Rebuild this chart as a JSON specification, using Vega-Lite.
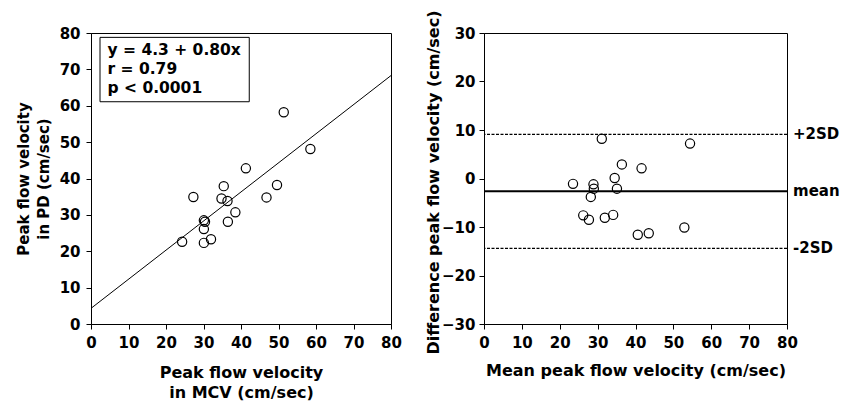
{
  "$schema": "https://vega.github.io/schema/vega-lite/v6.json",
  "background": "white",
  "padding": {"left": 15, "top": 9, "right": 5, "bottom": 5},
  "spacing": 23,
  "config": {
    "view": {"stroke": "black", "strokeWidth": 1},
    "axis": {
      "grid": false,
      "domainColor": "black",
      "tickColor": "black",
      "labelColor": "black",
      "titleColor": "black",
      "labelFont": "DejaVu Sans",
      "titleFont": "DejaVu Sans",
      "labelFontWeight": "bold",
      "titleFontWeight": "bold",
      "labelFontSize": 15,
      "titleFontSize": 16,
      "tickSize": 5,
      "labelPadding": 4,
      "titlePadding": 8,
      "titleLineHeight": 20,
      "labelFlush": false,
      "labelOverlap": false
    },
    "text": {"font": "DejaVu Sans", "fontWeight": "bold", "color": "black"}
  },
  "datasets": {
    "comparison": [
      {"mcv": 24.3, "pd": 22.6},
      {"mcv": 27.3, "pd": 34.9},
      {"mcv": 30.1, "pd": 28.5},
      {"mcv": 30.4, "pd": 28.1},
      {"mcv": 30.1, "pd": 26.1},
      {"mcv": 30.1, "pd": 22.3},
      {"mcv": 32.0, "pd": 23.3},
      {"mcv": 34.8, "pd": 34.5},
      {"mcv": 35.4, "pd": 37.9},
      {"mcv": 36.4, "pd": 33.8},
      {"mcv": 36.5, "pd": 28.1},
      {"mcv": 38.5, "pd": 30.7},
      {"mcv": 41.3, "pd": 42.8},
      {"mcv": 46.8, "pd": 34.8},
      {"mcv": 49.6, "pd": 38.2},
      {"mcv": 51.4, "pd": 58.2},
      {"mcv": 58.5, "pd": 48.1}
    ],
    "agreement": [
      {"mean": 31.1, "diff": 8.2},
      {"mean": 54.4, "diff": 7.2},
      {"mean": 36.4, "diff": 2.9},
      {"mean": 41.6, "diff": 2.1},
      {"mean": 34.5, "diff": 0.1},
      {"mean": 23.5, "diff": -1.1},
      {"mean": 28.9, "diff": -1.2},
      {"mean": 29.0, "diff": -2.1},
      {"mean": 35.1, "diff": -2.1},
      {"mean": 28.2, "diff": -3.8},
      {"mean": 26.2, "diff": -7.6},
      {"mean": 34.1, "diff": -7.5},
      {"mean": 27.7, "diff": -8.5},
      {"mean": 31.9, "diff": -8.1},
      {"mean": 52.9, "diff": -10.1},
      {"mean": 40.6, "diff": -11.6},
      {"mean": 43.5, "diff": -11.3}
    ],
    "limits": [
      {"label": "+2SD", "value": 9.1},
      {"label": "mean", "value": -2.65},
      {"label": "-2SD", "value": -14.4}
    ]
  },
  "hconcat": [
    {
      "width": 300,
      "height": 291,
      "layer": [
        {
          "data": {"values": [{}]},
          "mark": {"type": "rule", "color": "black", "strokeWidth": 1},
          "encoding": {
            "x": {"datum": 0, "type": "quantitative", "scale": {"domain": [0, 80], "nice": false},
              "axis": {"values": [0, 10, 20, 30, 40, 50, 60, 70, 80], "tickCount": 9, "labelOverlap": false, "labelPadding": 6, "titlePadding": 14, "title": ["Peak flow velocity", "in MCV (cm/sec)"]}},
            "x2": {"datum": 80},
            "y": {"datum": 4.3, "type": "quantitative", "scale": {"domain": [0, 80], "nice": false},
              "axis": {"values": [0, 10, 20, 30, 40, 50, 60, 70, 80], "tickCount": 9, "labelOverlap": false, "title": ["Peak flow velocity", "in PD (cm/sec)"], "titleFontSize": 15, "labelPadding": 6}},
            "y2": {"datum": 68.3}
          }
        },
        {
          "data": {"name": "comparison"},
          "mark": {"type": "point", "shape": "circle", "filled": false, "stroke": "black", "strokeWidth": 1.2, "size": 85, "opacity": 1},
          "encoding": {
            "x": {"field": "mcv", "type": "quantitative"},
            "y": {"field": "pd", "type": "quantitative"}
          }
        },
        {
          "data": {"values": [{}]},
          "mark": {"type": "rect", "fill": "white", "stroke": "black", "strokeWidth": 1},
          "encoding": {
            "x": {"datum": 2.4, "type": "quantitative"},
            "x2": {"datum": 42.2},
            "y": {"datum": 78.8, "type": "quantitative"},
            "y2": {"datum": 61.1}
          }
        },
        {
          "data": {"values": [{}]},
          "mark": {"type": "text", "text": ["y = 4.3 + 0.80x", "r = 0.79", "p < 0.0001"], "align": "left", "baseline": "top", "fontSize": 15.5, "lineHeight": 19},
          "encoding": {
            "x": {"datum": 4.4, "type": "quantitative"},
            "y": {"datum": 77.3, "type": "quantitative"}
          }
        }
      ]
    },
    {
      "width": 303,
      "height": 291,
      "layer": [
        {
          "data": {"name": "agreement"},
          "mark": {"type": "point", "shape": "circle", "filled": false, "stroke": "black", "strokeWidth": 1.2, "size": 85, "opacity": 1},
          "encoding": {
            "x": {"field": "mean", "type": "quantitative", "scale": {"domain": [0, 80], "nice": false},
              "axis": {"values": [0, 10, 20, 30, 40, 50, 60, 70, 80], "tickCount": 9, "labelOverlap": false, "labelPadding": 6, "titlePadding": 12, "title": "Mean peak flow velocity (cm/sec)"}},
            "y": {"field": "diff", "type": "quantitative", "scale": {"domain": [-30, 30], "nice": false},
              "axis": {"values": [-30, -20, -10, 0, 10, 20, 30], "tickCount": 7, "labelOverlap": false, "title": "Difference peak flow velocity (cm/sec)", "titleFontSize": 16, "titlePadding": 0, "titleY": 149}}
          }
        },
        {
          "data": {"values": [{}]},
          "mark": {"type": "rule", "color": "black", "strokeWidth": 1.2, "strokeDash": [3, 1.5]},
          "encoding": {"y": {"datum": 9.1, "type": "quantitative"}}
        },
        {
          "data": {"values": [{}]},
          "mark": {"type": "rule", "color": "black", "strokeWidth": 1.2, "strokeDash": [3, 1.5]},
          "encoding": {"y": {"datum": -14.4, "type": "quantitative"}}
        },
        {
          "data": {"values": [{}]},
          "mark": {"type": "rule", "color": "black", "strokeWidth": 2},
          "encoding": {"y": {"datum": -2.65, "type": "quantitative"}}
        },
        {
          "data": {"name": "limits"},
          "mark": {"type": "text", "align": "left", "baseline": "middle", "fontSize": 15, "dx": 6},
          "encoding": {
            "x": {"datum": 80, "type": "quantitative"},
            "y": {"field": "value", "type": "quantitative"},
            "text": {"field": "label"}
          }
        }
      ]
    }
  ]
}
